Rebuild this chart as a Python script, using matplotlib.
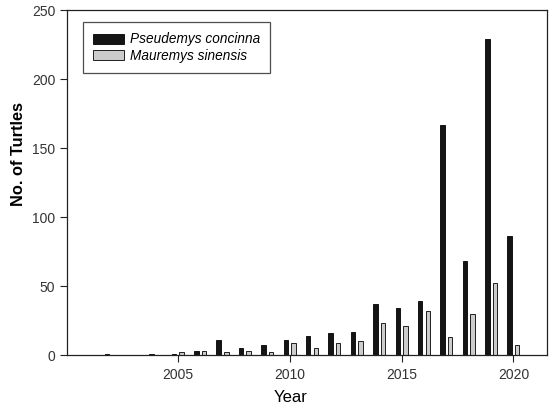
import matplotlib
matplotlib.use("Agg")
import matplotlib.pyplot as plt
import numpy as np

years = [2002, 2004, 2005, 2006, 2007, 2008, 2009, 2010, 2011, 2012, 2013,
         2014, 2015, 2016, 2017, 2018, 2019, 2020]
pseudemys = [1, 1, 1, 3, 11, 5, 7, 11, 14, 16, 17, 37, 34, 39, 167, 68, 229, 86]
mauremys = [0, 0, 2, 3, 2, 3, 2, 9, 5, 9, 10, 23, 21, 32, 13, 30, 52, 7]
xticks = [2005, 2010, 2015, 2020]
yticks = [0, 50, 100, 150, 200, 250]

plt.rcParams['font.family'] = ['Liberation Sans', 'DejaVu Sans']

fig = plt.figure(figsize=(5.49, 4.12), dpi=100)
ax = fig.add_axes([0.122, 0.138, 0.8744, 0.8375])

x = np.array(years, dtype=float)
w = 0.2
ax.bar(x - 0.17, pseudemys, width=w, color='#151515', edgecolor='black',
       linewidth=0.6, label='Pseudemys concinna')
ax.bar(x + 0.17, mauremys, width=w, color='#cccccc', edgecolor='black',
       linewidth=0.6, label='Mauremys sinensis')

ax.set_xlim(2000.05, 2021.5)
ax.set_ylim(0, 250)
ax.set_xticks(xticks)
ax.set_yticks(yticks)
ax.tick_params(axis='both', direction='out', length=5, width=0.8,
               labelsize=10, colors='#222222', labelcolor='#333333')
ax.tick_params(axis='x', pad=4)
for s in ax.spines.values():
    s.set_linewidth(0.9)
    s.set_color('#222222')

ax.set_xlabel('Year', fontsize=12, fontweight='normal', va='top')
ax.xaxis.set_label_coords(0.466, -0.102)
ax.set_ylabel('No. of Turtles', fontsize=11.8, fontweight='bold', va='center')
ax.yaxis.set_label_coords(-0.100, 0.582)

leg = ax.legend(loc='upper left', bbox_to_anchor=(0.033, 0.965), frameon=True,
                fancybox=False, edgecolor='#222222',
                prop={'style': 'italic', 'size': 9.8},
                handlelength=2.25, handleheight=0.75, borderpad=0.75,
                labelspacing=0.18, handletextpad=0.45, borderaxespad=0)
leg.get_frame().set_linewidth(0.9)

fig.savefig('out.png', dpi=100)
